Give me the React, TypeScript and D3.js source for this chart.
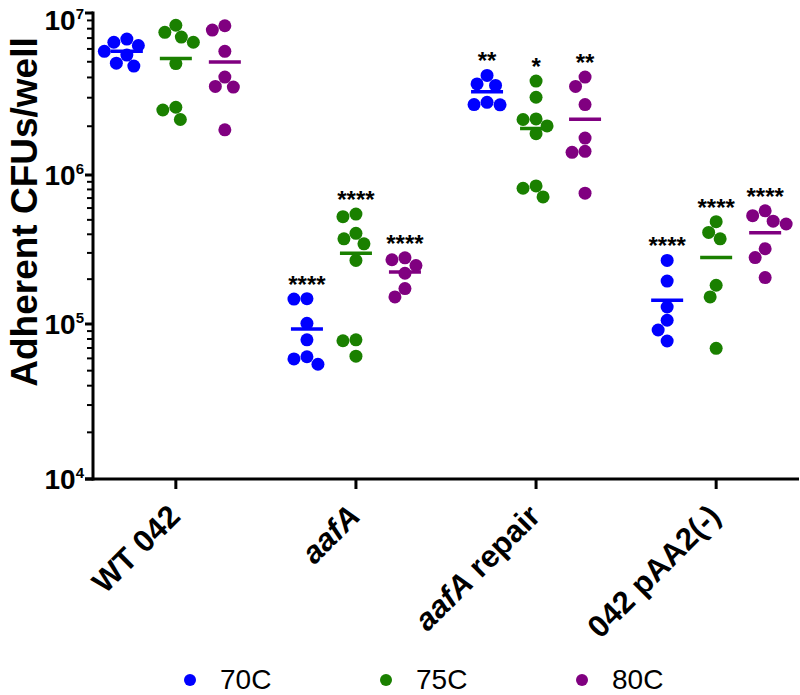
import React from "react";
import * as d3 from "d3";

const categories = ["WT 042", "aafA", "aafA repair", "042 pAA2(-)"];
const seriesNames = ["70C", "75C", "80C"];
const seriesColors = ["#0000ff", "#1a8000", "#800080"];

const values70C = [
  [6.9e6, 6.6e6, 6.3e6, 5.8e6, 5.5e6, 4.9e6, 4.7e6],
  [1.48e5, 1.47e5, 1.01e5, 7.9e4, 6.15e4, 5.95e4, 5.5e4],
  [4.12e6, 3.65e6, 3.57e6, 2.81e6, 2.72e6, 2.71e6],
  [2.67e5, 1.94e5, 1.3e5, 1.06e5, 9.15e4, 7.77e4],
];
const values75C = [
  [8.4e6, 7.6e6, 7.1e6, 6.6e6, 4.87e6, 2.62e6, 2.52e6, 2.2e6],
  [5.47e5, 5.25e5, 4.06e5, 3.73e5, 3.45e5, 2.67e5, 7.9e4, 7.8e4, 6.2e4],
  [3.8e6, 3.02e6, 2.22e6, 2.2e6, 2.01e6, 1.8e6, 8.45e5, 8.15e5, 7.13e5],
  [4.86e5, 4.12e5, 3.73e5, 1.82e5, 1.52e5, 6.97e4],
];
const values80C = [
  [8.34e6, 7.84e6, 5.8e6, 4.02e6, 3.52e6, 3.49e6, 1.9e6],
  [2.78e5, 2.7e5, 2.47e5, 2.19e5, 1.73e5, 1.52e5],
  [4.02e6, 3.52e6, 2.72e6, 1.69e6, 1.4e6, 1.38e6, 7.55e5],
  [5.75e5, 5.33e5, 4.69e5, 4.9e5, 3.2e5, 2.79e5, 2.05e5],
];
const stars70C = ["", "****", "**", "****"];
const stars75C = ["", "****", "*", "****"];
const stars80C = ["", "****", "**", "****"];

const seriesValues = [values70C, values75C, values80C];
const seriesStars = [stars70C, stars75C, stars80C];
const yMajorTicks = [1e4, 1e5, 1e6, 1e7];
const yExponents = ["4", "5", "6", "7"];

const FONT = "'Liberation Sans', Arial, sans-serif";
const W = 800;
const H = 695;
const axisX = 93;
const axisRight = 799;
const axisBottom = 479;
const R = 6.5;

const y = d3
  .scaleLog()
  .domain([1e4, 1e5, 1e6, 1e7])
  .range([479, 324, 175, 13]);
const x = d3.scalePoint<string>().domain(categories).range([axisX, axisRight]).padding(0.46);
const xs = d3.scalePoint<string>().domain(seriesNames).range([-49, 49]);

function swarm(vals: number[], cx: number) {
  const D = 13;
  const placed: { x: number; y: number; v: number }[] = [];
  const sorted = [...vals].sort((a, b) => b - a);
  for (const v of sorted) {
    const py = y(v);
    let best = 0;
    for (let k = 0; k < 200; k++) {
      const off = (k % 2 === 0 ? 1 : -1) * Math.ceil(k / 2) * 0.5;
      const ok = placed.every((p) => (p.x - off) ** 2 + (p.y - py) ** 2 >= D * D);
      if (ok) {
        best = off;
        break;
      }
    }
    placed.push({ x: best, y: py, v });
  }
  return placed.map((p) => ({ ...p, x: p.x + cx }));
}

function CategoryLabel({ label, tx }: { label: string; tx: number }) {
  const ax = tx + 6;
  const ay = 518;
  let content: React.ReactNode = label;
  if (label.startsWith("aafA")) {
    content = (
      <>
        <tspan fontStyle="italic">aafA</tspan>
        {label.length > 4 ? <tspan>{label.slice(4)}</tspan> : null}
      </>
    );
  }
  return (
    <text
      fontFamily={FONT}
      fontSize={31}
      fontWeight={700}
      textAnchor="end"
      transform={`translate(${ax},${ay}) rotate(-45)`}
      fill="#000"
      style={{ whiteSpace: "pre" }}
    >
      {content}
    </text>
  );
}

export default function App() {
  const minorTicks: number[] = [];
  for (let k = 4; k < 7; k++) {
    for (let m = 2; m <= 9; m++) minorTicks.push(m * Math.pow(10, k));
  }

  return (
    <svg
      width={W}
      height={H}
      viewBox={`0 0 ${W} ${H}`}
      style={{ position: "absolute", left: 0, top: 0, background: "#fff" }}
    >
      <rect width={W} height={H} fill="#fff" />
      {/* Y axis title */}
      <text
        transform={`translate(37,212) rotate(-90)`}
        textAnchor="middle"
        fontFamily={FONT}
        fontSize={37}
        fontWeight={700}
      >
        Adherent CFUs/well
      </text>

      {/* Y axis */}
      {minorTicks.map((t) => (
        <line key={"m" + t} x1={axisX - 6} x2={axisX} y1={y(t)} y2={y(t)} stroke="#000" strokeWidth={2} />
      ))}
      {yMajorTicks.map((t, i) => (
        <g key={"M" + t}>
          <line x1={axisX - 8} x2={axisX} y1={y(t)} y2={y(t)} stroke="#000" strokeWidth={3} />
          <text
            x={84}
            y={Math.max(y(t) + 10, 30)}
            textAnchor="end"
            fontFamily={FONT}
            fontWeight={700}
            fontSize={28}
          >
            10
            <tspan fontSize={15} dy={-11}>
              {yExponents[i]}
            </tspan>
          </text>
        </g>
      ))}
      <line x1={axisX} x2={axisX} y1={y(1e7) - 1.5} y2={axisBottom + 1.5} stroke="#000" strokeWidth={3} />

      {/* X axis */}
      <line x1={axisX - 8} x2={axisRight} y1={axisBottom} y2={axisBottom} stroke="#000" strokeWidth={3} />
      {categories.map((c) => (
        <g key={c}>
          <line x1={x(c)!} x2={x(c)!} y1={axisBottom} y2={axisBottom + 10} stroke="#000" strokeWidth={3} />
          <CategoryLabel label={c} tx={x(c)!} />
        </g>
      ))}

      {/* Data */}
      {categories.map((c, ci) =>
        seriesNames.map((s, si) => {
          const cx = x(c)! + xs(s)!;
          const vals = seriesValues[si][ci];
          const pts = swarm(vals, cx);
          const mean = d3.mean(vals)!;
          const top = y(d3.max(vals)!);
          const stars = seriesStars[si][ci];
          return (
            <g key={c + s}>
              {pts.map((p, i) => (
                <circle key={i} cx={p.x} cy={p.y} r={R} fill={seriesColors[si]} />
              ))}
              <line
                x1={cx - 16}
                x2={cx + 16}
                y1={y(mean)}
                y2={y(mean)}
                stroke={seriesColors[si]}
                strokeWidth={3.5}
              />
              {stars ? (
                <text
                  x={cx}
                  y={top - 20 + 14}
                  textAnchor="middle"
                  fontFamily={FONT}
                  fontSize={24}
                  fontWeight={700}
                  fill="#000"
                >
                  {stars}
                </text>
              ) : null}
            </g>
          );
        })
      )}

      {/* Legend */}
      {seriesNames.map((s, i) => (
        <g key={"lg" + s}>
          <circle cx={190 + i * 196} cy={680} r={6} fill={seriesColors[i]} />
          <text x={220 + i * 196} y={689} fontFamily={FONT} fontSize={28} fill="#000">
            {s}
          </text>
        </g>
      ))}
    </svg>
  );
}
